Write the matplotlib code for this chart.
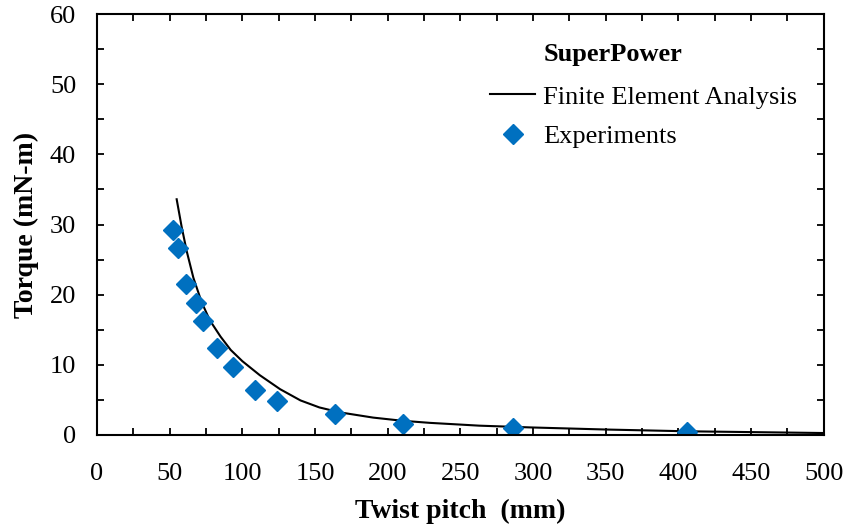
import matplotlib.pyplot as plt
import numpy as np
from matplotlib.ticker import MultipleLocator

plt.rcParams['font.family'] = 'Liberation Serif'

# Experiments (twist pitch in mm, torque in mN-m)
exp_pitch = [52.5, 55.5, 61, 68, 73, 82.7, 93.3, 108.7, 123.6, 163.7, 210.3, 285.9, 405.6]
exp_torque = [29.2, 26.7, 21.5, 18.8, 16.2, 12.4, 9.6, 6.4, 4.8, 2.9, 1.6, 0.9, 0.4]

# Finite element curve
fea_pitch = [54.8, 58.2, 61.7, 66.3, 72, 77.7, 85, 92, 100, 112, 126, 140, 153, 167, 190, 210, 229, 263, 298, 350, 405, 500]
fea_torque = [33.6, 29.7, 26.2, 22.4, 18.9, 16.3, 14.0, 12.1, 10.5, 8.5, 6.5, 4.9, 3.9, 3.2, 2.45, 2.0, 1.7, 1.3, 1.05, 0.75, 0.5, 0.25]

fig, ax = plt.subplots(figsize=(8.51, 5.27), dpi=100)
fig.subplots_adjust(left=0.114, right=0.968, top=0.973, bottom=0.175)

ax.plot(fea_pitch, fea_torque, color='black', lw=1.5, label='Finite Element Analysis')
ax.plot(exp_pitch, exp_torque, ls='none', marker='D', ms=10, color='#0070C0',
        mec='#0070C0', label='Experiments')

ax.set_xlim(0, 500)
ax.set_ylim(0, 60)
ax.xaxis.set_major_locator(MultipleLocator(50))
ax.xaxis.set_minor_locator(MultipleLocator(25))
ax.yaxis.set_major_locator(MultipleLocator(10))
ax.yaxis.set_minor_locator(MultipleLocator(5))
ax.tick_params(which='both', direction='in', top=True, right=True, length=5, width=1.3,
               labelsize=19)
ax.tick_params(axis='x', pad=20)
ax.tick_params(axis='y', pad=15)
for s in ax.spines.values():
    s.set_linewidth(1.5)

ax.set_xlabel('Twist pitch  (mm)', fontsize=20, fontweight='bold', labelpad=10)
ax.set_ylabel('Torque (mN-m)', fontsize=20, fontweight='bold', labelpad=8)

ax.text(0.614, 0.905, 'SuperPower', transform=ax.transAxes, fontsize=19,
        fontweight='bold', va='center', ha='left')
ax.legend(loc='upper left', bbox_to_anchor=(0.523, 0.863), frameon=False, fontsize=19,
          handlelength=1.7, handletextpad=0.3, labelspacing=0.6, borderpad=0)

fig.savefig('out.png', dpi=100)
